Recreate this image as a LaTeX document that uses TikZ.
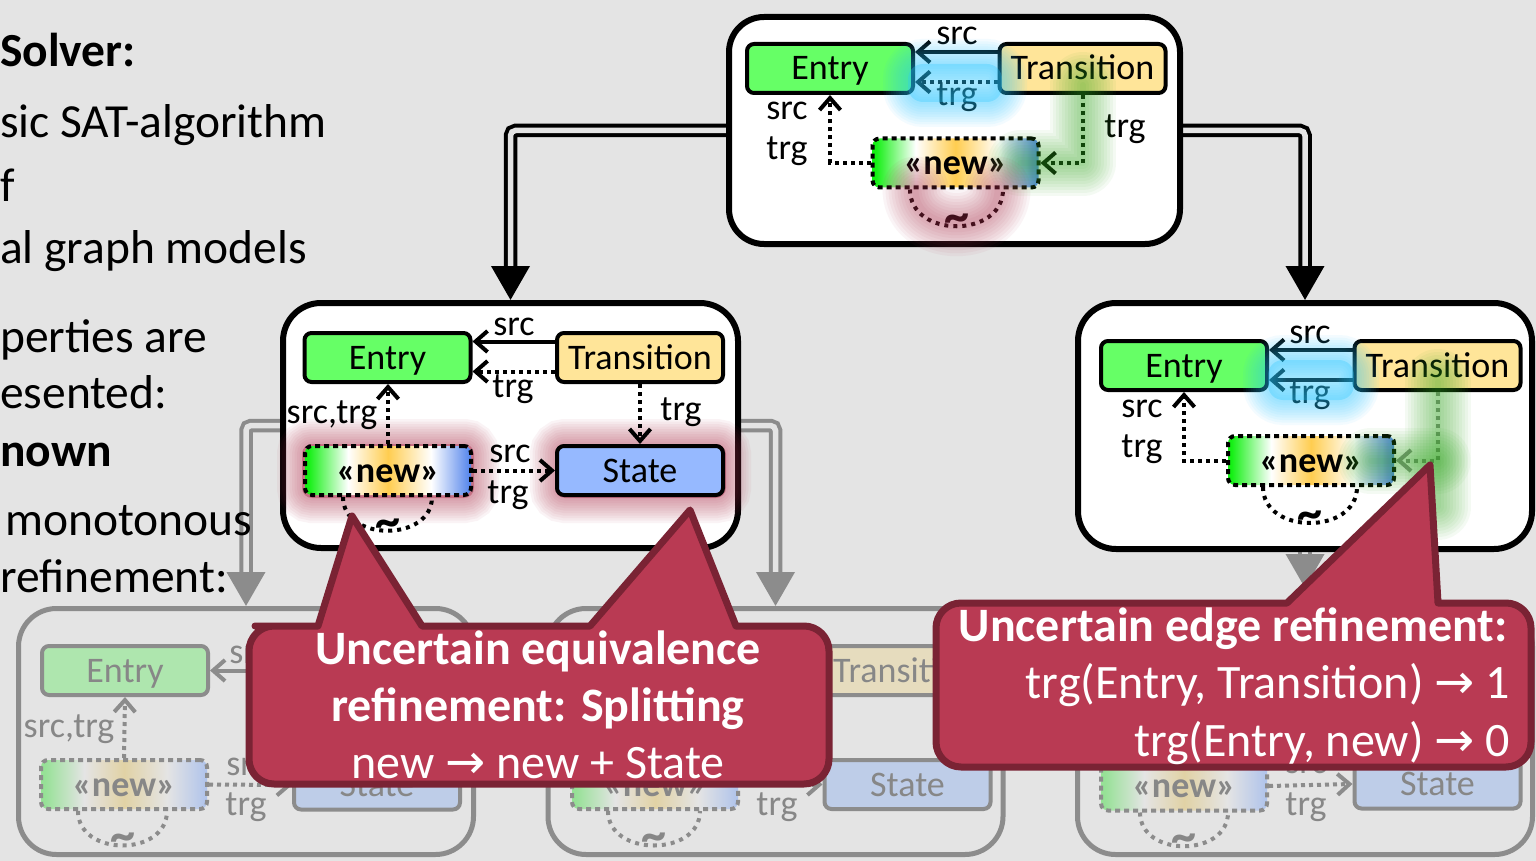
\documentclass[tikz,border=0pt]{standalone}
\usepackage{fontspec}
\setmainfont{Carlito}
\newfontfamily\symfont{DejaVu Sans}
\usetikzlibrary{arrows.meta}
\pgfdeclarelayer{back}
\pgfsetlayers{back,main}

\definecolor{bg}{RGB}{228,228,228}
\definecolor{entryg}{RGB}{102,255,102}
\definecolor{transy}{RGB}{255,229,153}
\definecolor{stateb}{RGB}{150,185,255}
\definecolor{fentry}{RGB}{174,230,174}
\definecolor{ftrans}{RGB}{230,220,190}
\definecolor{fstate}{RGB}{190,205,232}
\definecolor{fgray}{RGB}{140,140,140}
\definecolor{ftext}{RGB}{135,135,135}
\definecolor{callfill}{RGB}{185,58,83}
\definecolor{callline}{RGB}{122,35,52}
\definecolor{glowred}{RGB}{175,50,80}
\definecolor{glowcyan}{RGB}{40,200,255}
\definecolor{glowgreen}{RGB}{50,170,30}
\definecolor{ngreen}{RGB}{20,240,20}
\definecolor{nyellow}{RGB}{255,205,80}
\definecolor{nblue}{RGB}{80,130,235}
\definecolor{fgreen}{RGB}{150,225,150}
\definecolor{fyellow}{RGB}{225,210,165}
\definecolor{fblue}{RGB}{175,195,235}

\pgfdeclarehorizontalshading{newshade}{100bp}{color(0bp)=(ngreen); color(26bp)=(ngreen); color(38bp)=(white); color(50bp)=(nyellow); color(63bp)=(white); color(75bp)=(nblue); color(100bp)=(nblue)}
\pgfdeclarehorizontalshading{fnewshade}{100bp}{color(0bp)=(fgreen); color(26bp)=(fgreen); color(38bp)=(bg); color(50bp)=(fyellow); color(63bp)=(bg); color(75bp)=(fblue); color(100bp)=(fblue)}

\tikzset{
 nd/.style={draw, line width=4pt, rounded corners=7pt, minimum width=166pt, minimum height=49pt, inner sep=0pt, text height=30pt, text depth=7pt, font=\fontsize{36}{42}\selectfont},
 entrynd/.style={nd, fill=entryg},
 transnd/.style={nd, fill=transy},
 statend/.style={nd, fill=stateb},
 newnd/.style={nd, shade, shading=newshade, dash pattern=on 5pt off 4pt, font=\fontsize{36}{42}\selectfont\bfseries},
 fentrynd/.style={entrynd, draw=fgray, fill=fentry, text=ftext},
 ftransnd/.style={transnd, draw=fgray, fill=ftrans, text=ftext},
 fstatend/.style={statend, draw=fgray, fill=fstate, text=ftext},
 fnewnd/.style={newnd, draw=fgray, shading=fnewshade, text=ftext},
 lbl/.style={anchor=base, inner sep=0pt, font=\fontsize{36}{42}\selectfont},
 flbl/.style={lbl, text=ftext},
 tildend/.style={inner sep=0pt, yshift=3pt, font=\fontsize{50}{50}\selectfont\bfseries},
 bigbox/.style={draw, line width=6pt, fill=white, rounded corners=38pt, inner sep=0pt},
 fbigbox/.style={draw=fgray, line width=5pt, fill=bg, rounded corners=38pt, inner sep=0pt, minimum width=455pt, minimum height=246pt},
 sedge/.style={line width=4pt, -{Straight Barb[length=12pt,width=21pt]}},
 dedge/.style={sedge, dash pattern=on 4pt off 4pt},
 loopline/.style={line width=4pt, dash pattern=on 4pt off 5pt},
 dblk/.style={draw=black, line width=4pt, double=bg, double distance=5.5pt, rounded corners=5pt, -{Triangle[length=34pt,width=38pt]}},
 dgry/.style={dblk, draw=fgray},
 lefttext/.style={anchor=base west, inner sep=0pt, font=\fontsize{47.5}{55}\selectfont},
 callout/.style={draw=callline, fill=callfill, line width=7pt, line join=round},
 calltext/.style={anchor=base, inner sep=0pt, text=white, font=\fontsize{48}{55}\selectfont},
}

\newcommand\glowbox[5]{%
 \foreach \w in {50,45,...,5}{\draw[draw=#1, line width=\w pt, draw opacity=0.055, rounded corners=#5] #3 rectangle #4;}
 \fill[#1, fill opacity=#2, rounded corners=#5] #3 rectangle #4;}
\newcommand\glowpath[2]{%
 \foreach \w in {66,60,...,6}{\draw[draw=#1, line width=\w pt, draw opacity=0.05, line cap=round, line join=round] #2;}}

\begin{document}
\begin{tikzpicture}[x=1pt,y=-1pt]
\begin{pgfonlayer}{back}
\fill[bg] (0,0) rectangle (1536,861);
\end{pgfonlayer}
\useasboundingbox (0,0) rectangle (1536,861);

% ---------- left text ----------
\node[lefttext, font=\fontsize{47.5}{55}\selectfont\bfseries] (t1) at (0,67) {Solver:};
\node[lefttext] (t2) at (0,138) {sic SAT-algorithm};
\node[lefttext] (t3) at (0,202) {f};
\node[lefttext] (t4) at (0,263) {al graph models};
\node[lefttext] (t5) at (0,352) {perties are};
\node[lefttext] (t6) at (0,408) {esented:};
\node[lefttext, font=\fontsize{47.5}{55}\selectfont\bfseries] (t7) at (0,466) {nown};
\node[lefttext] (t8) at (5,535) {monotonous};
\node[lefttext] (t9) at (0,592) {refinement:};

% ---------- boxes ----------
\node[fbigbox] (BL) at (246,731.5) {};
\node[fbigbox] (BM) at (775.5,731.5) {};
\node[fbigbox] (BR) at (1305,731.5) {};
\node[bigbox, minimum height=245pt, minimum width=455pt] (ML) at (510.5,425.5) {};
\node[bigbox, minimum height=246pt, minimum width=454pt] (MR) at (1305,426) {};
\node[bigbox, minimum height=227pt, minimum width=451pt, rounded corners=35pt] (T) at (954.5,130.5) {};

\begin{pgfonlayer}{back}
\draw[dblk] (T.west) -| (ML.north);
\draw[dblk] (T.east) -| (MR.north);
\draw[dgry] (ML.west) -| (BL.north);
\draw[dgry] (ML.east) -| (BM.north);
\coordinate (cbr) at (1305,588);
\draw[dgry] (MR.south) -- (cbr);
\end{pgfonlayer}

% ---------- bottom-left (faded) ----------
\node[fentrynd] (E4) at (125,670.5) {Entry};
\node[fnewnd] (N4) at (124,784.5) {«new»};
\node[fstatend] (S4) at (377,785) {State};
\coordinate (c4) at (300,670.5);
\draw[sedge, draw=fgray] (c4) -- (E4.east);
\node[flbl] (l41) at (250,663) {src};
\draw[dedge, draw=fgray] (N4.north) -- (E4.south);
\node[flbl] (l42) at (69,737) {src,trg};
\draw[dedge, draw=fgray] (N4.east) -- (S4.west);
\node[flbl] (l43) at (247,775) {src};
\node[flbl] (l44) at (246,815) {trg};
\draw[loopline, draw=fgray] ([xshift=-46pt]N4.south) .. controls +(0,46) and +(0,46) .. ([xshift=43pt]N4.south) node[midway, tildend, text=ftext] (lp4) {\textasciitilde};

% ---------- bottom-middle (faded) ----------
\node[ftransnd] (T5) at (905,670.5) {Transition};
\node[fnewnd] (N5) at (655,784.5) {«new»};
\node[fstatend] (S5) at (907.5,784.5) {State};
\draw[dedge, draw=fgray] (N5.east) -- (S5.west);
\node[flbl] (l51) at (777,815) {trg};
\draw[loopline, draw=fgray] ([xshift=-47pt]N5.south) .. controls +(0,46) and +(0,46) .. ([xshift=45pt]N5.south) node[midway, tildend, text=ftext] (lp5) {\textasciitilde};

% ---------- bottom-right (faded) ----------
\node[fnewnd] (N6) at (1184,786) {«new»};
\node[fstatend] (S6) at (1437.5,784) {State};
\draw[dedge, draw=fgray] (N6.east) -- (S6.west);
\node[flbl] (l61) at (1306,773) {src};
\node[flbl] (l62) at (1306,815) {trg};
\draw[loopline, draw=fgray] ([xshift=-44pt]N6.south) .. controls +(0,45) and +(0,45) .. ([xshift=44pt]N6.south) node[midway, tildend, text=ftext] (lp6) {\textasciitilde};

% ---------- middle-left ----------
\glowbox{glowred}{0.45}{(302,444)}{(474,498)}{10pt}
\glowbox{glowred}{0.45}{(555,444)}{(726,498)}{10pt}
\node[entrynd] (E2) at (387.5,357.5) {Entry};
\node[transnd] (T2) at (640,357.5) {Transition};
\node[newnd] (N2) at (388,470.5) {«new»};
\node[statend] (S2) at (640,470.5) {State};
\draw[sedge] ([yshift=16pt]T2.west) -- ([yshift=16pt]E2.east);
\node[lbl] (l21) at (514,335) {src};
\draw[dedge] ([yshift=-14pt]T2.west) -- ([yshift=-14pt]E2.east);
\node[lbl] (l22) at (513,397) {trg};
\draw[dedge] (N2.north) -- (N2.north |- E2.south);
\node[lbl] (l23) at (332,423) {src,trg};
\draw[dedge] (T2.south) -- (S2.north);
\node[lbl] (l24) at (681,420) {trg};
\draw[dedge] (N2.east) -- (S2.west);
\node[lbl] (l25) at (510,462) {src};
\node[lbl] (l26) at (508,503) {trg};
\draw[loopline] ([xshift=-45pt]N2.south) .. controls +(0,45) and +(0,45) .. ([xshift=44pt]N2.south) node[midway, tildend] (lp2) {\textasciitilde};

% ---------- middle-right ----------
\node[entrynd] (E3) at (1184,365.5) {Entry};
\node[transnd] (T3) at (1437.5,365.5) {Transition};
\node[newnd] (N3) at (1311,460.5) {«new»};
\draw[sedge] ([yshift=15.5pt]T3.west) -- ([yshift=15.5pt]E3.east);
\node[lbl] (l31) at (1310,343) {src};
\draw[sedge] ([yshift=-14.5pt]T3.west) -- ([yshift=-14.5pt]E3.east);
\node[lbl] (l32) at (1310,403) {trg};
\draw[dedge] (N3.west) -| (E3.south);
\node[lbl] (l33) at (1142,417) {src};
\node[lbl] (l34) at (1142,457) {trg};
\draw[dedge, draw=fgray] (T3.south) |- (N3.east);
\draw[loopline] ([xshift=-48pt]N3.south) .. controls +(0,48) and +(0,48) .. ([xshift=46pt]N3.south) node[midway, tildend] (lp3) {\textasciitilde};
\glowbox{glowcyan}{0.3}{(1268,360)}{(1354,400)}{15pt}
\glowpath{glowgreen}{([yshift=10pt]T3.south) -- ++(0,125)}
\glowpath{glowgreen}{(T3.south |- N3.east) -- ([xshift=-25pt]N3.east)}

% ---------- top ----------
\node[entrynd] (E1) at (830,68.5) {Entry};
\node[transnd] (T1) at (1082.5,68.5) {Transition};
\node[newnd] (N1) at (955.5,163) {«new»};
\draw[sedge] ([yshift=16.5pt]T1.west) -- ([yshift=16.5pt]E1.east);
\node[lbl] (l11) at (957,45) {src};
\draw[dedge] ([yshift=-13.5pt]T1.west) -- ([yshift=-13.5pt]E1.east);
\node[lbl] (l12) at (957,106) {trg};
\draw[dedge] (N1.west) -| (E1.south);
\node[lbl] (l13) at (787,120) {src};
\node[lbl] (l14) at (787,160) {trg};
\draw[dedge] (T1.south) |- (N1.east);
\node[lbl] (l15) at (1125,138) {trg};
\draw[loopline] ([xshift=-45.5pt]N1.south) .. controls +(0,49) and +(0,49) .. ([xshift=47.5pt]N1.south) node[midway, tildend] (lp1) {\textasciitilde};
\glowbox{glowcyan}{0.3}{(908,64)}{(1002,102)}{15pt}
\glowpath{glowgreen}{([yshift=10pt]T1.south) -- (T1.south |- N1.east) -- ([xshift=-20pt]N1.east)}
\glowpath{glowred}{([xshift=-40pt]N1.south) .. controls +(0,45) and +(0,45) .. ([xshift=42pt]N1.south)}

% ---------- callouts ----------
\draw[callout] (300,626) -- (318,626) -- (352,516) -- (422,626) -- (590,626) -- (690,510) -- (736,626) -- (780,626) [rounded corners=25pt] -- (829,626) -- (829,784) -- (249,784) -- (249,626) -- (280,626) [sharp corners] -- cycle;
\node[calltext, font=\fontsize{48}{55}\selectfont\bfseries] (k1) at (538,664) {Uncertain equivalence};
\node[calltext, font=\fontsize{48}{55}\selectfont\bfseries] (k2) at (538,721) {refinement: Splitting};
\node[calltext] (k3) at (538,778) {new {\symfont →} new + State};

\draw[callout] (1260,603) -- (1287,603) -- (1430,465) -- (1438,603) -- (1480,603) [rounded corners=25pt] -- (1531,603) -- (1531,767) -- (936,767) -- (936,603) -- (1000,603) [sharp corners] -- cycle;
\node[calltext, anchor=base east, font=\fontsize{48}{55}\selectfont\bfseries] (k4) at (1508,641) {Uncertain edge refinement:};
\node[calltext, anchor=base east] (k5) at (1510,698) {trg(Entry, Transition) {\symfont →} 1};
\node[calltext, anchor=base east] (k6) at (1510,756) {trg(Entry, new) {\symfont →} 0};
\end{tikzpicture}
\end{document}
